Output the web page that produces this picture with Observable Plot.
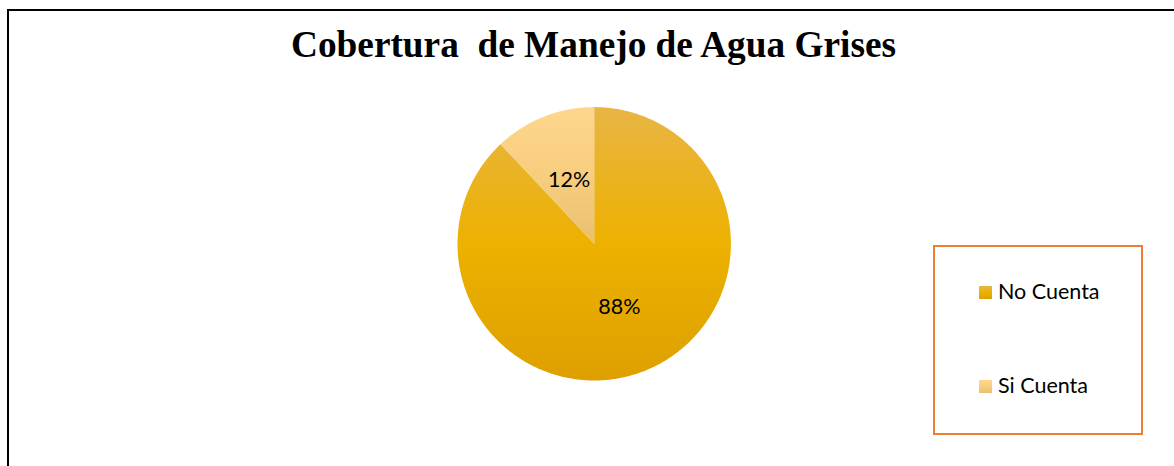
<!DOCTYPE html>
<html>
<head>
<meta charset="utf-8">
<script src="https://cdn.jsdelivr.net/npm/d3@7"></script>
<script src="https://cdn.jsdelivr.net/npm/@observablehq/plot@0.6"></script>
<style>
  html, body { margin: 0; padding: 0; background: #fff; overflow: hidden; width: 1174px; height: 466px; }
  #frame { position: absolute; left: 7px; top: 9px; width: 1175px; height: 470px; border: 2px solid #000; box-sizing: content-box; }
  #title { position: absolute; left: 0; top: 26px; width: 1187px; text-align: center; white-space: pre;
           font-family: "Liberation Serif", "Times New Roman", serif; font-weight: bold; font-size: 37.3px; line-height: 37px; color: #000; }
  #chart { position: absolute; left: 9px; top: 11px; }
  #legend { position: absolute; left: 933px; top: 245px; width: 206px; height: 186px; border: 2px solid #ED7D31; }
  .item { position: absolute; left: 44px; font-family: Lato, "Noto Sans", sans-serif; font-size: 21.5px; line-height: 21.5px; color: #000; white-space: nowrap; }
  .sw { display: inline-block; width: 13px; height: 13px; margin-right: 6px; vertical-align: baseline; }
</style>
</head>
<body>
<div id="frame"></div>
<div id="title">Cobertura  de Manejo de Agua Grises</div>
<div id="chart"></div>
<div id="legend"></div>
<script>
// ---- data ----
const categories = ["No Cuenta", "Si Cuenta"];
const values = [88, 12];
const labels = ["88%", "12%"];
const gradients = [
  ["#E8B544", "#EDB100", "#DDA000"],
  ["#FED78D", "#F7CD7F", "#EABF70"]
];

// ---- pie geometry from data ----
const pie = d3.pie().sort(null).value(d => d.value);
const rows = categories.map((c, i) => ({cat: c, value: values[i], label: labels[i], grad: `url(#grad${i})`}));
const arcs = pie(rows);
const arcGen = d3.arc().innerRadius(0).outerRadius(1);

const polys = [];
arcs.forEach(a => {
  polys.push({cat: a.data.cat, grad: a.data.grad, x: 0, y: 0});
  const n = Math.max(2, Math.ceil((a.endAngle - a.startAngle) / 0.01));
  for (let k = 0; k <= n; k++) {
    const t = a.startAngle + (a.endAngle - a.startAngle) * k / n;
    polys.push({cat: a.data.cat, grad: a.data.grad, x: Math.sin(t), y: Math.cos(t)});
  }
});
const labelPts = arcs.map(a => {
  const c = arcGen.centroid(a);
  return {x: c[0], y: -c[1], label: a.data.label};
});

const cx = 584.7, cy = 232.3, r = 136.7;
const plot = Plot.plot({
  width: 1165,
  height: 455,
  margin: 0,
  x: {domain: [-1, 1], range: [cx - r, cx + r], axis: null},
  y: {domain: [-1, 1], range: [cy + r, cy - r], axis: null},
  color: {type: "identity"},
  marks: [
    Plot.line(polys, {x: "x", y: "y", z: "cat", fill: "grad", stroke: "none", curve: "linear-closed"}),
    Plot.text(labelPts, {x: "x", y: "y", text: "label", fontSize: 21.5, fill: "#000",
      fontFamily: "Lato, 'Noto Sans', sans-serif"})
  ]
});
plot.style.background = "transparent";
plot.style.overflow = "visible";

// gradient defs
const ns = "http://www.w3.org/2000/svg";
const defs = document.createElementNS(ns, "defs");
gradients.forEach((stops, i) => {
  const g = document.createElementNS(ns, "linearGradient");
  g.setAttribute("id", `grad${i}`);
  g.setAttribute("x1", "0"); g.setAttribute("y1", "0");
  g.setAttribute("x2", "0"); g.setAttribute("y2", "1");
  stops.forEach((col, j) => {
    const s = document.createElementNS(ns, "stop");
    s.setAttribute("offset", String(j / (stops.length - 1)));
    s.setAttribute("stop-color", col);
    g.appendChild(s);
  });
  defs.appendChild(g);
});
plot.insertBefore(defs, plot.firstChild);
document.getElementById("chart").appendChild(plot);

// legend
const leg = document.getElementById("legend");
const tops = [34, 128];
categories.forEach((c, i) => {
  const div = document.createElement("div");
  div.className = "item";
  div.style.top = tops[i] + "px";
  const sw = document.createElement("span");
  sw.className = "sw";
  sw.style.background = `linear-gradient(${gradients[i][0]}, ${gradients[i][1]}, ${gradients[i][2]})`;
  div.appendChild(sw);
  div.appendChild(document.createTextNode(c));
  leg.appendChild(div);
});
</script>
</body>
</html>
